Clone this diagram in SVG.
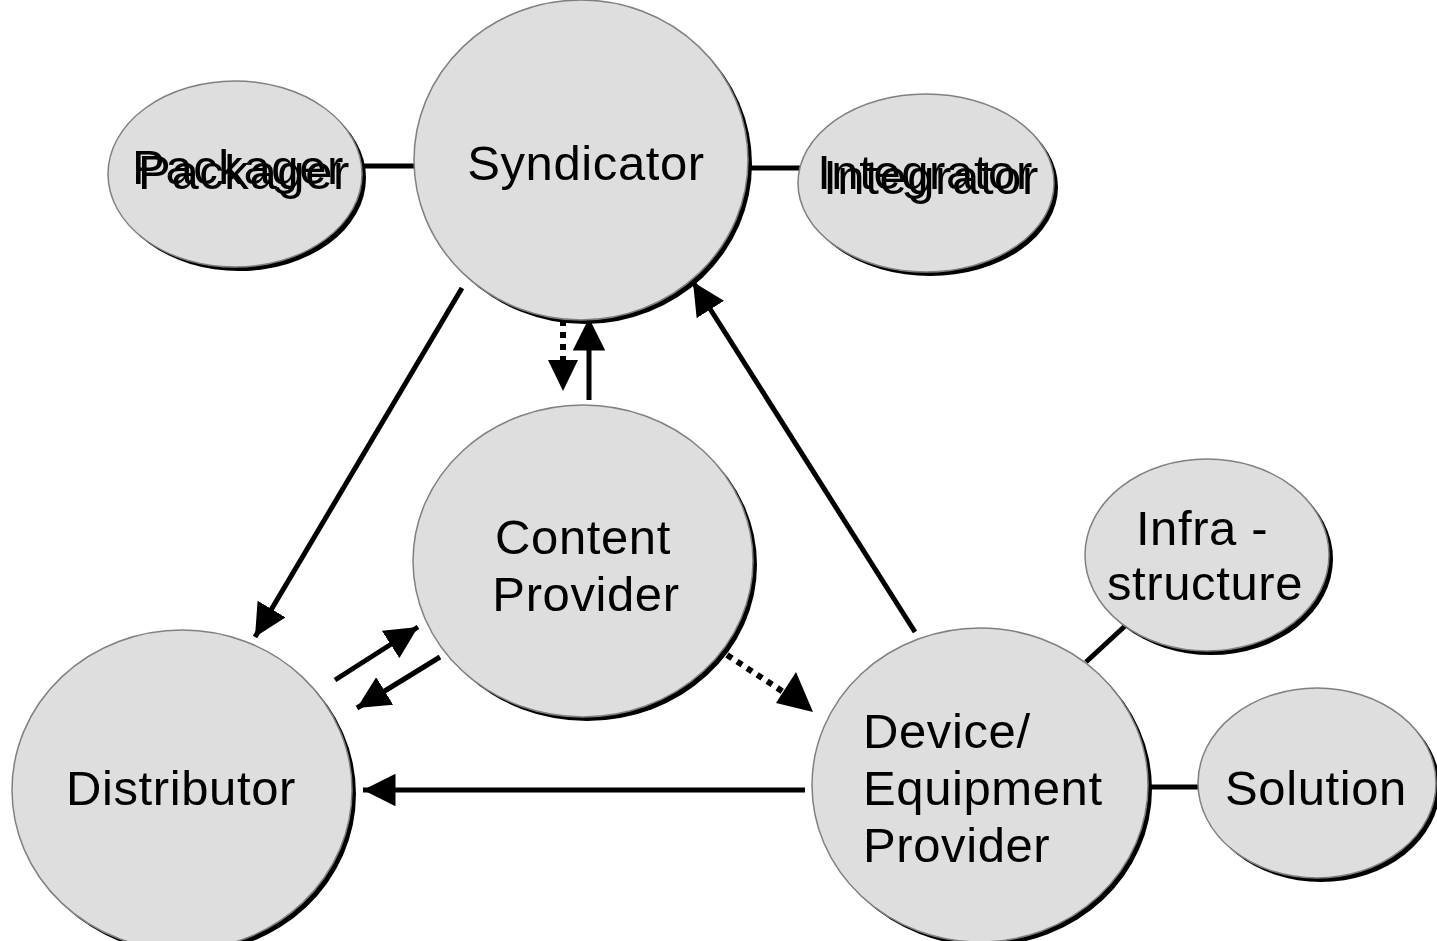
<svg xmlns="http://www.w3.org/2000/svg" width="1437" height="941" viewBox="0 0 1437 941">
<defs>
<style>
.sh{fill:#000}
.nd{fill:#dedede;stroke:#808080;stroke-width:1.5}
.t{font-family:"Liberation Sans",Arial,sans-serif;font-size:49px;fill:#000;letter-spacing:0.6px}
.c{text-anchor:middle}
.ln{stroke:#000;stroke-width:5;fill:none}
.dt{stroke:#000;stroke-width:6;fill:none;stroke-dasharray:6 6}
</style>
<marker id="ah" viewBox="0 0 10 10" refX="10" refY="5" markerWidth="6.5" markerHeight="6.5" markerUnits="strokeWidth" orient="auto">
<path d="M0,0 L10,5 L0,10 z" fill="#000"/>
</marker>
</defs>
<rect width="1437" height="941" fill="#fff"/>
<g id="connectors">
<line class="ln" x1="362" y1="166" x2="416" y2="166"/>
<line class="ln" x1="750" y1="168" x2="800" y2="168"/>
<line class="ln" x1="1086" y1="662" x2="1125" y2="626"/>
<line class="ln" x1="1150" y1="787" x2="1200" y2="787"/>
<line class="ln" x1="462" y1="288" x2="255" y2="637" marker-end="url(#ah)"/>
<line class="dt" x1="563" y1="320" x2="563" y2="360"/>
<path d="M548,360 L578,360 L563,391 z" fill="#000"/>
<line class="ln" x1="589" y1="400" x2="589" y2="318" marker-end="url(#ah)"/>
<line class="ln" x1="915" y1="632" x2="693" y2="282" marker-end="url(#ah)"/>
<line class="ln" x1="335" y1="680" x2="418" y2="627" marker-end="url(#ah)"/>
<line class="ln" x1="440" y1="657" x2="357" y2="708" marker-end="url(#ah)"/>
<line class="dt" x1="727" y1="655" x2="785" y2="693"/>
<path d="M776,703 L796,672 L813,712 z" fill="#000"/>
<line class="ln" x1="805" y1="790" x2="363" y2="790" marker-end="url(#ah)"/>
</g>
<g id="packager">
<ellipse class="sh" cx="239" cy="178" rx="127" ry="93"/>
<ellipse class="nd" cx="235" cy="174" rx="127" ry="93"/>
<text class="t c" x="238" y="184">Packager</text>
<text class="t c" x="244" y="189">Packager</text>
</g>
<g id="syndicator">
<ellipse class="sh" cx="585" cy="164" rx="167" ry="160"/>
<ellipse class="nd" cx="581" cy="160" rx="167" ry="160"/>
<text class="t c" x="586" y="180">Syndicator</text>
</g>
<g id="integrator">
<ellipse class="sh" cx="930" cy="187" rx="128" ry="89"/>
<ellipse class="nd" cx="926" cy="183" rx="128" ry="89"/>
<text class="t c" x="925" y="189">Integrator</text>
<text class="t c" x="931" y="194">Integrator</text>
</g>
<g id="content-provider">
<ellipse class="sh" cx="587" cy="565" rx="170" ry="156"/>
<ellipse class="nd" cx="583" cy="561" rx="170" ry="156"/>
<text class="t c" x="583" y="554">Content</text>
<text class="t c" x="586" y="611">Provider</text>
</g>
<g id="distributor">
<ellipse class="sh" cx="186" cy="794" rx="170" ry="160"/>
<ellipse class="nd" cx="182" cy="790" rx="170" ry="160"/>
<text class="t c" x="181" y="805">Distributor</text>
</g>
<g id="device-provider">
<ellipse class="sh" cx="984" cy="789" rx="168" ry="157"/>
<ellipse class="nd" cx="980" cy="785" rx="168" ry="157"/>
<text class="t" x="863" y="748">Device/</text>
<text class="t" x="863" y="805">Equipment</text>
<text class="t" x="863" y="862">Provider</text>
</g>
<g id="infrastructure">
<ellipse class="sh" cx="1211" cy="559" rx="122" ry="96"/>
<ellipse class="nd" cx="1207" cy="555" rx="122" ry="96"/>
<text class="t c" x="1202" y="545">Infra -</text>
<text class="t c" x="1205" y="600">structure</text>
</g>
<g id="solution">
<ellipse class="sh" cx="1321" cy="787" rx="119" ry="95"/>
<ellipse class="nd" cx="1317" cy="783" rx="119" ry="95"/>
<text class="t c" x="1316" y="805">Solution</text>
</g>
</svg>
